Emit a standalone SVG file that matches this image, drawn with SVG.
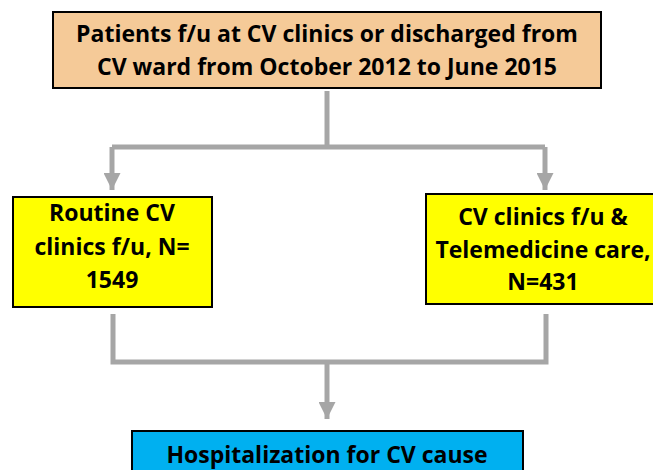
<svg xmlns="http://www.w3.org/2000/svg" width="653" height="470" viewBox="0 0 653 470">
<style>
.box{stroke:#000;stroke-width:2}
.t{font-family:"Open Sans",Lato,"Liberation Sans",sans-serif;font-weight:bold;font-size:23px;fill:#000;text-anchor:middle}
.c{fill:none;stroke:#A6A6A6;stroke-width:5}
</style>
<defs>
<marker id="ah" viewBox="0 0 10 10" refX="10" refY="5" markerWidth="3.4" markerHeight="3.4" markerUnits="strokeWidth" orient="auto">
<path d="M0,0 L10,5 L0,10 Z" fill="#A6A6A6"/>
</marker>
</defs>
<rect width="653" height="470" fill="#fff"/>
<g id="connectors">
<path class="c" d="M327,91 V147"/>
<path class="c" d="M112,147 H545"/>
<path class="c" d="M112,147 V190" marker-end="url(#ah)"/>
<path class="c" d="M545,147 V190" marker-end="url(#ah)"/>
<path class="c" d="M113,314 V362 H546 V314"/>
<path class="c" d="M327,362 V419" marker-end="url(#ah)"/>
</g>
<g id="top">
<rect class="box" x="53" y="12" width="548" height="76" fill="#F5CA98"/>
<text class="t" x="327" y="41.5">Patients f/u at CV clinics or discharged from</text>
<text class="t" x="327" y="74.5">CV ward from October 2012 to June 2015</text>
</g>
<g id="routine">
<rect class="box" x="13" y="197" width="199" height="110" fill="#FFFF00"/>
<text class="t" x="112" y="221">Routine CV</text>
<text class="t" x="112" y="255">clinics f/u, N=</text>
<text class="t" x="112" y="288">1549</text>
</g>
<g id="tele">
<rect class="box" x="426" y="194" width="236" height="110" fill="#FFFF00"/>
<text class="t" x="543" y="225">CV clinics f/u &amp;</text>
<text class="t" x="543" y="258">Telemedicine care,</text>
<text class="t" x="543" y="290">N=431</text>
</g>
<g id="hosp">
<rect class="box" x="132" y="431" width="391" height="50" fill="#00B0F0"/>
<text class="t" x="327" y="463">Hospitalization for CV cause</text>
</g>
</svg>
